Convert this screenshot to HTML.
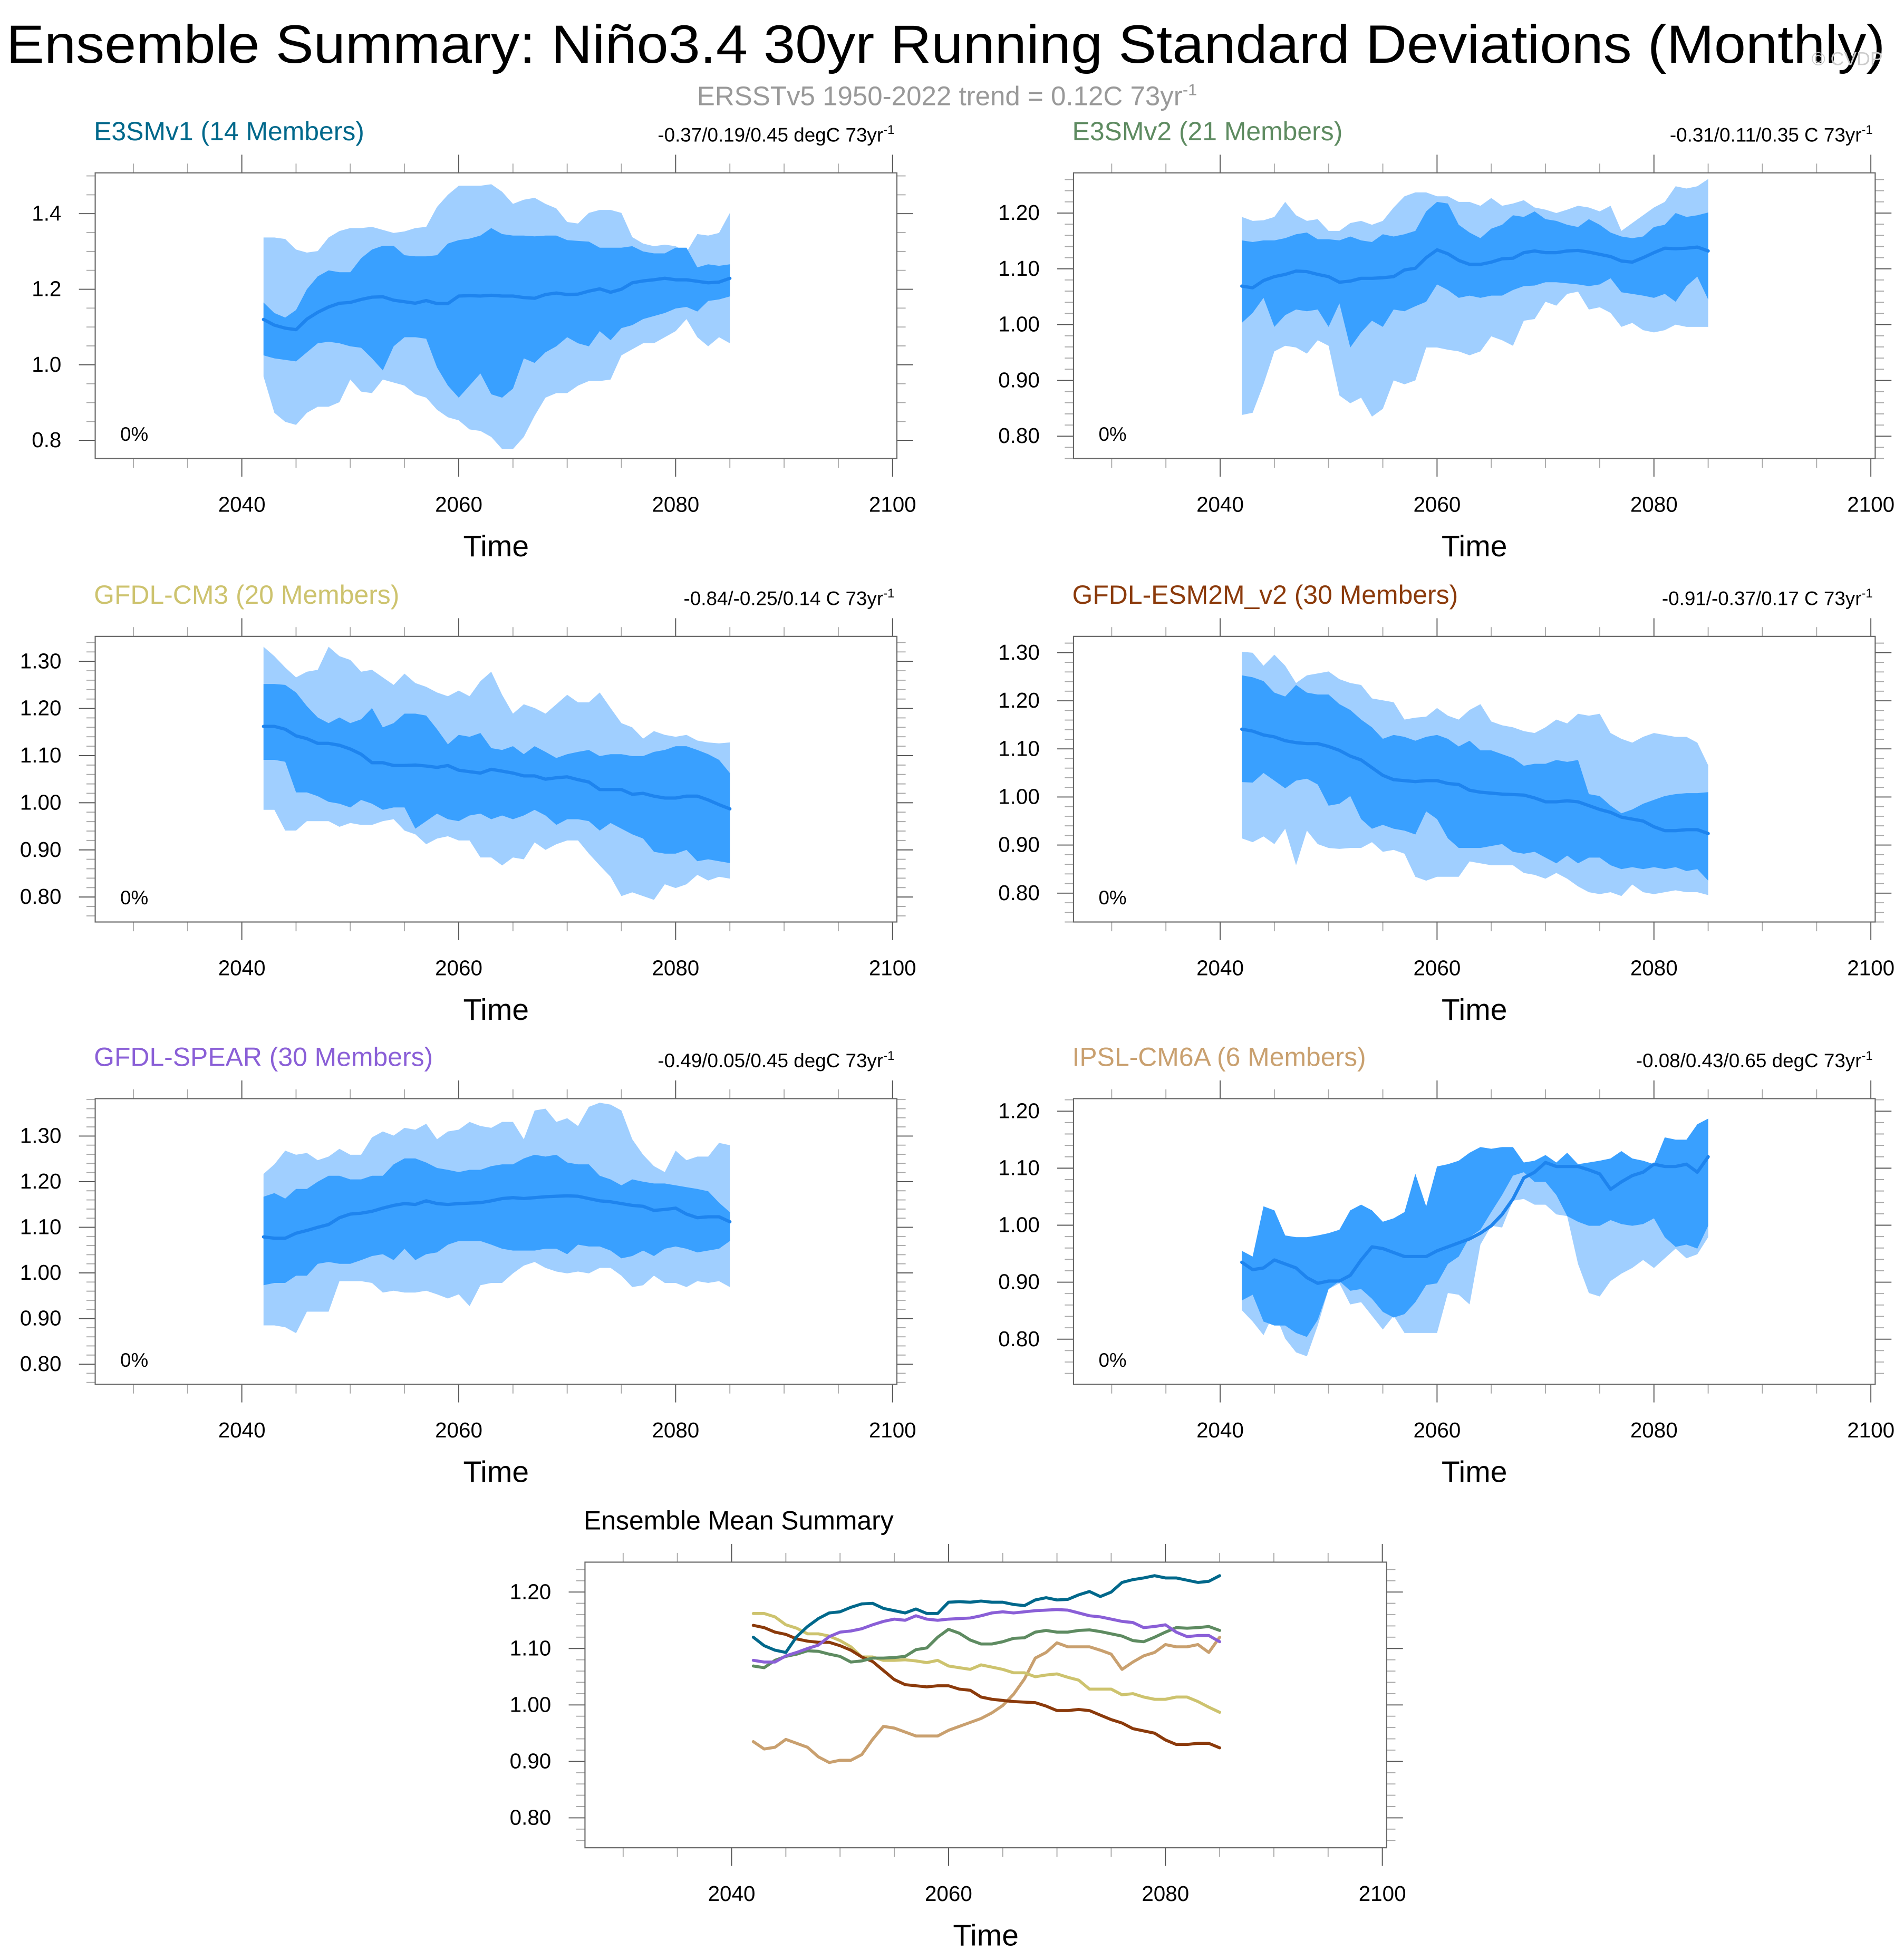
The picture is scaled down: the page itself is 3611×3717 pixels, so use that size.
<!DOCTYPE html>
<html><head><meta charset="utf-8">
<style>
html,body{margin:0;padding:0;background:#fff;}
svg{display:block;font-family:"Liberation Sans",Arial,sans-serif;}
</style></head>
<body>
<svg id="fig" xmlns="http://www.w3.org/2000/svg" width="3611" height="3717" viewBox="0 0 1520 1564.6" preserveAspectRatio="none">
<rect x="0" y="0" width="1520" height="1565" fill="#fff"/>
<text x="5" y="50" font-size="43" textLength="1500" lengthAdjust="spacingAndGlyphs" fill="#000">Ensemble Summary: Niño3.4 30yr Running Standard Deviations (Monthly)</text>
<text x="1503" y="52" font-size="15" text-anchor="end" fill="#ccc">© CVDP</text>
<text x="756" y="84" font-size="21.5" text-anchor="middle" fill="#999">ERSSTv5 1950-2022 trend = 0.12C 73yr<tspan font-size="13" dy="-8">-1</tspan></text>
<g id="plots"></g>
</svg>
<script>
const years = [];
for (let y = 2042; y <= 2085; y++) years.push(y);

// E3SMv1
const e3smv1Mean = [1.12,1.105,1.097,1.093,1.121,1.139,1.153,1.163,1.165,1.173,1.179,1.18,1.171,1.167,1.163,1.17,1.162,1.162,1.182,1.183,1.182,1.184,1.182,1.182,1.178,1.176,1.186,1.19,1.186,1.187,1.195,1.201,1.192,1.2,1.217,1.222,1.225,1.229,1.225,1.225,1.221,1.217,1.219,1.229];
const e3smv1DarkHi = [1.165,1.137,1.125,1.145,1.2,1.234,1.25,1.245,1.245,1.282,1.305,1.315,1.315,1.29,1.287,1.287,1.29,1.321,1.33,1.334,1.342,1.362,1.346,1.342,1.342,1.34,1.342,1.342,1.33,1.328,1.326,1.31,1.31,1.31,1.314,1.3,1.295,1.295,1.31,1.31,1.258,1.266,1.262,1.266];
const e3smv1DarkLo = [1.025,1.017,1.013,1.009,1.033,1.057,1.061,1.057,1.049,1.045,1.017,0.985,1.049,1.073,1.073,1.069,0.993,0.945,0.913,0.945,0.977,0.922,0.913,0.937,1.017,1.005,1.033,1.049,1.073,1.057,1.049,1.089,1.065,1.097,1.105,1.121,1.129,1.137,1.149,1.153,1.141,1.169,1.173,1.181];
const e3smv1LightHi = [1.337,1.337,1.333,1.305,1.297,1.301,1.337,1.354,1.362,1.362,1.365,1.357,1.349,1.353,1.362,1.365,1.418,1.45,1.474,1.474,1.474,1.478,1.458,1.426,1.437,1.442,1.426,1.414,1.378,1.374,1.402,1.41,1.41,1.402,1.338,1.321,1.314,1.318,1.314,1.298,1.346,1.342,1.349,1.402];
const e3smv1LightLo = [0.969,0.873,0.849,0.841,0.873,0.889,0.889,0.901,0.961,0.929,0.925,0.961,0.953,0.945,0.922,0.913,0.881,0.861,0.853,0.829,0.825,0.809,0.777,0.777,0.809,0.865,0.913,0.925,0.925,0.945,0.957,0.957,0.961,1.025,1.041,1.057,1.057,1.073,1.089,1.121,1.073,1.049,1.073,1.057];

// E3SMv2
const e3smv2Mean = [1.069,1.066,1.079,1.086,1.09,1.096,1.095,1.09,1.086,1.076,1.078,1.083,1.083,1.084,1.086,1.098,1.101,1.12,1.134,1.127,1.115,1.108,1.108,1.112,1.118,1.119,1.129,1.132,1.129,1.129,1.132,1.133,1.13,1.126,1.122,1.114,1.112,1.12,1.129,1.137,1.136,1.137,1.139,1.132];
const e3smv2DarkHi = [1.151,1.148,1.151,1.151,1.155,1.162,1.165,1.153,1.153,1.151,1.158,1.151,1.148,1.162,1.158,1.162,1.168,1.203,1.22,1.217,1.179,1.165,1.155,1.172,1.179,1.196,1.193,1.203,1.189,1.186,1.179,1.175,1.189,1.179,1.165,1.158,1.155,1.158,1.175,1.179,1.2,1.193,1.196,1.201];
const e3smv2DarkLo = [1.003,1.021,1.048,0.996,1.017,1.027,1.024,1.027,0.996,1.038,0.959,0.986,1.007,0.996,1.027,1.024,1.033,1.041,1.072,1.062,1.048,1.052,1.048,1.052,1.052,1.062,1.069,1.07,1.076,1.076,1.074,1.072,1.069,1.072,1.083,1.058,1.055,1.052,1.048,1.055,1.041,1.069,1.086,1.045];
const e3smv2LightHi = [1.193,1.186,1.187,1.193,1.22,1.196,1.186,1.189,1.168,1.168,1.182,1.186,1.179,1.186,1.21,1.23,1.237,1.237,1.23,1.23,1.22,1.22,1.213,1.227,1.213,1.217,1.223,1.21,1.206,1.2,1.206,1.213,1.21,1.203,1.213,1.168,1.182,1.196,1.21,1.22,1.248,1.244,1.248,1.261];
const e3smv2LightLo = [0.838,0.842,0.893,0.952,0.962,0.959,0.948,0.972,0.962,0.873,0.859,0.869,0.835,0.849,0.9,0.893,0.9,0.959,0.959,0.955,0.952,0.945,0.952,0.979,0.972,0.962,1.007,1.01,1.041,1.034,1.055,1.059,1.027,1.031,1.021,0.996,1.003,0.99,0.986,0.99,1.0,0.996,0.996,0.996];

// GFDL-CM3
const cm3Mean = [1.162,1.162,1.156,1.142,1.136,1.126,1.126,1.122,1.114,1.103,1.085,1.085,1.079,1.079,1.08,1.078,1.075,1.079,1.069,1.066,1.063,1.071,1.067,1.063,1.057,1.057,1.05,1.053,1.055,1.049,1.044,1.028,1.028,1.028,1.018,1.02,1.014,1.01,1.01,1.014,1.014,1.006,0.996,0.987];
const cm3DarkHi = [1.252,1.252,1.25,1.234,1.205,1.181,1.169,1.181,1.169,1.177,1.201,1.16,1.169,1.189,1.189,1.185,1.156,1.124,1.144,1.14,1.148,1.116,1.112,1.12,1.103,1.12,1.108,1.095,1.103,1.108,1.112,1.099,1.103,1.103,1.099,1.099,1.108,1.112,1.12,1.12,1.112,1.103,1.091,1.063];
const cm3DarkLo = [1.091,1.091,1.087,1.022,1.022,1.014,1.002,0.998,0.99,1.006,0.998,0.985,0.99,0.99,0.945,0.961,0.977,0.965,0.961,0.973,0.977,0.965,0.973,0.965,0.973,0.985,0.973,0.953,0.965,0.965,0.961,0.941,0.957,0.945,0.933,0.924,0.896,0.892,0.892,0.9,0.876,0.88,0.876,0.872];
const cm3LightHi = [1.331,1.311,1.287,1.266,1.278,1.282,1.331,1.311,1.303,1.278,1.282,1.266,1.25,1.274,1.254,1.246,1.234,1.226,1.238,1.226,1.258,1.278,1.229,1.189,1.209,1.201,1.189,1.209,1.229,1.213,1.213,1.234,1.201,1.169,1.16,1.136,1.152,1.144,1.14,1.144,1.132,1.128,1.126,1.128];
const cm3LightLo = [0.985,0.985,0.941,0.941,0.961,0.961,0.961,0.949,0.957,0.953,0.953,0.961,0.965,0.941,0.933,0.912,0.924,0.929,0.92,0.92,0.884,0.884,0.867,0.884,0.88,0.916,0.9,0.912,0.92,0.92,0.892,0.867,0.843,0.802,0.81,0.802,0.794,0.827,0.819,0.827,0.847,0.835,0.843,0.839];

// GFDL-ESM2M_v2
const esm2mMean = [1.141,1.137,1.129,1.125,1.117,1.113,1.111,1.111,1.105,1.097,1.085,1.077,1.061,1.045,1.036,1.034,1.032,1.034,1.034,1.028,1.026,1.014,1.01,1.008,1.006,1.005,1.004,0.998,0.99,0.99,0.992,0.99,0.982,0.974,0.968,0.958,0.954,0.95,0.938,0.93,0.93,0.932,0.932,0.924];
const esm2mDarkHi = [1.253,1.249,1.241,1.217,1.209,1.233,1.217,1.213,1.213,1.193,1.181,1.161,1.145,1.121,1.129,1.125,1.117,1.125,1.129,1.121,1.105,1.117,1.097,1.097,1.089,1.081,1.065,1.069,1.069,1.077,1.073,1.077,1.006,1.002,0.982,0.966,0.974,0.986,0.994,1.002,1.006,1.008,1.008,1.01];
const esm2mDarkLo = [1.031,1.03,1.05,1.034,1.018,1.034,1.038,1.026,0.982,0.986,1.002,0.954,0.934,0.942,0.934,0.93,0.922,0.97,0.954,0.914,0.894,0.894,0.894,0.898,0.902,0.886,0.882,0.886,0.874,0.862,0.878,0.862,0.874,0.874,0.858,0.85,0.854,0.85,0.854,0.85,0.854,0.846,0.85,0.826];
const esm2mLightHi = [1.302,1.3,1.273,1.296,1.273,1.237,1.253,1.257,1.261,1.245,1.237,1.233,1.205,1.201,1.197,1.161,1.165,1.167,1.185,1.169,1.161,1.181,1.193,1.157,1.149,1.145,1.137,1.133,1.145,1.161,1.153,1.173,1.169,1.173,1.133,1.121,1.113,1.125,1.133,1.129,1.125,1.125,1.113,1.066];
const esm2mLightLo = [0.914,0.906,0.918,0.902,0.934,0.858,0.93,0.902,0.894,0.892,0.894,0.894,0.906,0.886,0.89,0.882,0.834,0.826,0.834,0.834,0.834,0.866,0.862,0.858,0.858,0.858,0.842,0.838,0.83,0.842,0.83,0.814,0.802,0.798,0.802,0.794,0.818,0.802,0.798,0.802,0.806,0.802,0.802,0.796];

// GFDL-SPEAR
const spearMean = [1.079,1.076,1.076,1.087,1.093,1.1,1.106,1.121,1.129,1.131,1.135,1.142,1.148,1.152,1.15,1.158,1.152,1.15,1.152,1.153,1.154,1.158,1.163,1.165,1.163,1.165,1.167,1.168,1.169,1.168,1.163,1.158,1.156,1.152,1.148,1.146,1.137,1.139,1.142,1.129,1.121,1.123,1.123,1.112];
const spearDarkHi = [1.167,1.175,1.163,1.184,1.184,1.2,1.213,1.213,1.205,1.205,1.213,1.213,1.238,1.251,1.251,1.242,1.23,1.226,1.221,1.226,1.226,1.234,1.238,1.238,1.251,1.259,1.255,1.259,1.242,1.238,1.238,1.213,1.205,1.192,1.205,1.2,1.196,1.196,1.192,1.188,1.184,1.179,1.154,1.133];
const spearDarkLo = [0.973,0.978,0.978,0.994,0.994,1.02,1.024,1.02,1.02,1.028,1.037,1.041,1.028,1.053,1.028,1.041,1.045,1.062,1.07,1.07,1.07,1.062,1.053,1.049,1.049,1.049,1.053,1.053,1.041,1.062,1.058,1.058,1.049,1.032,1.037,1.049,1.037,1.053,1.058,1.053,1.045,1.049,1.053,1.07];
const spearLightHi = [1.217,1.238,1.268,1.259,1.263,1.247,1.255,1.272,1.259,1.259,1.297,1.31,1.301,1.318,1.314,1.327,1.293,1.31,1.314,1.331,1.322,1.318,1.331,1.331,1.293,1.356,1.36,1.331,1.339,1.322,1.364,1.373,1.369,1.356,1.293,1.259,1.234,1.221,1.268,1.247,1.255,1.255,1.285,1.28];
const spearLightLo = [0.885,0.885,0.881,0.868,0.915,0.915,0.915,0.982,0.982,0.982,0.978,0.957,0.961,0.957,0.957,0.961,0.953,0.944,0.953,0.927,0.973,0.978,0.978,0.999,1.016,1.024,1.011,1.003,0.999,1.003,0.999,1.011,1.011,0.994,0.969,0.973,0.994,0.978,0.978,0.969,0.982,0.978,0.982,0.969];

// IPSL-CM6A
const ipslMean = [0.935,0.922,0.925,0.939,0.932,0.925,0.908,0.898,0.902,0.902,0.912,0.939,0.962,0.959,0.952,0.945,0.945,0.945,0.955,0.962,0.969,0.976,0.986,0.999,1.019,1.046,1.083,1.093,1.11,1.103,1.103,1.103,1.097,1.09,1.063,1.076,1.087,1.093,1.107,1.103,1.103,1.107,1.093,1.12];
const ipslDarkHi = [0.955,0.945,1.033,1.026,0.982,0.979,0.979,0.982,0.986,0.992,1.026,1.036,1.026,1.006,1.012,1.023,1.09,1.033,1.103,1.107,1.113,1.127,1.137,1.134,1.137,1.137,1.11,1.113,1.123,1.11,1.127,1.107,1.11,1.113,1.117,1.13,1.117,1.113,1.107,1.154,1.15,1.15,1.177,1.187];
const ipslDarkLo = [0.868,0.878,0.831,0.824,0.824,0.811,0.804,0.834,0.888,0.902,0.885,0.888,0.871,0.848,0.838,0.844,0.865,0.895,0.898,0.932,0.945,0.979,0.992,1.023,1.053,1.087,1.093,1.076,1.076,1.053,1.016,1.006,0.999,0.999,1.009,1.002,0.999,1.002,1.012,0.979,0.962,0.966,0.959,0.999];
const ipslLightHi = [0.955,0.945,1.033,1.026,0.982,0.979,0.979,0.982,0.986,0.992,1.026,1.036,1.026,1.006,1.012,1.023,1.09,1.033,1.103,1.107,1.113,1.127,1.137,1.134,1.137,1.137,1.11,1.113,1.123,1.11,1.127,1.107,1.11,1.113,1.117,1.13,1.117,1.113,1.107,1.154,1.15,1.15,1.177,1.187];
const ipslLightLo = [0.851,0.831,0.807,0.848,0.801,0.777,0.77,0.824,0.888,0.898,0.861,0.865,0.841,0.817,0.841,0.811,0.811,0.811,0.811,0.881,0.878,0.861,0.966,0.999,0.996,1.043,1.046,1.036,1.036,1.019,1.016,0.932,0.881,0.875,0.902,0.915,0.925,0.939,0.925,0.942,0.959,0.942,0.949,0.979];

const panelTitles = ["E3SMv1 (14 Members)","E3SMv2 (21 Members)","GFDL-CM3 (20 Members)","GFDL-ESM2M_v2 (30 Members)","GFDL-SPEAR (30 Members)","IPSL-CM6A (6 Members)"];
const panelTrends = ["-0.37/0.19/0.45 degC 73yr","-0.31/0.11/0.35 C 73yr","-0.84/-0.25/0.14 C 73yr","-0.91/-0.37/0.17 C 73yr","-0.49/0.05/0.45 degC 73yr","-0.08/0.43/0.65 degC 73yr"];
const seriesColors = ["#00688b","#5e8b61","#cdc36e","#8b3a0b","#8a5fd7","#c9a06f"];
const xTickLabels = [2040,2060,2080,2100];

const NS = "http://www.w3.org/2000/svg";
const root = document.getElementById("plots");
function mk(tag, attrs, parent){
  const e = document.createElementNS(NS, tag);
  for (const k in attrs) e.setAttribute(k, attrs[k]);
  (parent||root).appendChild(e);
  return e;
}

const FW = 640, FH = 228, YR0 = 2026.48, YR1 = 2100.4;

function makeAxes(g, x0, y0, yMin, yMax, major, minor, dec, majors){
  const sx = yr => x0 + (yr - YR0) / (YR1 - YR0) * FW;
  const sy = v => y0 + (yMax - v) / (yMax - yMin) * FH;
  const fb = y0 + FH;
  for (let yr = 2030; yr <= 2100; yr += 5){
    const isMaj = yr % 20 === 0;
    const L = isMaj ? 14.5 : 7.4;
    const col = isMaj ? "#555" : "#aaa";
    const t1 = mk("line",{x1:sx(yr),x2:sx(yr),y1:fb,y2:fb+L,stroke:col,"stroke-width":0.8},g);
    
    
    const t2 = mk("line",{x1:sx(yr),x2:sx(yr),y1:y0,y2:y0-L,stroke:col,"stroke-width":0.8},g);
    
    
  }
  xTickLabels.forEach(v=>{
    const t = mk("text",{x:sx(v),y:fb+42.5,"font-size":17,"text-anchor":"middle",fill:"#000"},g);
    t.textContent = v;
    
    
  });
  const tl = mk("text",{x:x0+FW/2,y:fb+78,"font-size":24,"text-anchor":"middle",fill:"#000"},g);
  tl.textContent = "Time";
  
  
  const n0 = Math.ceil(yMin/minor - 1e-6), n1 = Math.floor(yMax/minor + 1e-6);
  for (let n = n0; n <= n1; n++){
    const v = n*minor;
    const isMaj = Math.abs(v/major - Math.round(v/major)) < 1e-6;
    const L = isMaj ? 13 : 7;
    const col = isMaj ? "#555" : "#aaa";
    const a = mk("line",{x1:x0-L,x2:x0,y1:sy(v),y2:sy(v),stroke:col,"stroke-width":0.8},g);
    
    
    const b = mk("line",{x1:x0+FW,x2:x0+FW+L,y1:sy(v),y2:sy(v),stroke:col,"stroke-width":0.8},g);
    
    
  }
  majors.forEach(v=>{
    const t = mk("text",{x:x0-27,y:sy(v)+5.5,"font-size":17,"text-anchor":"end",fill:"#000"},g);
    t.textContent = v.toFixed(dec);
    
    
  });
  return {sx, sy};
}

function frame(g, x0, y0){
  const f = mk("rect",{x:x0,y:y0,width:FW,height:FH,fill:"none",stroke:"#666","stroke-width":0.9},g);
  
  
}

function bandPath(sx, sy, hi, lo){
  let d = "";
  years.forEach((yr,i)=>{ d += (i?"L":"M") + sx(yr).toFixed(2) + "," + sy(hi[i]).toFixed(2); });
  for (let i = years.length-1; i >= 0; i--) d += "L" + sx(years[i]).toFixed(2) + "," + sy(lo[i]).toFixed(2);
  return d + "Z";
}
function linePath(sx, sy, vals){
  let d = "";
  years.forEach((yr,i)=>{ d += (i?"L":"M") + sx(yr).toFixed(2) + "," + sy(vals[i]).toFixed(2); });
  return d;
}

const panels = [
  {x0:76,y0:138,yMin:0.752,yMax:1.508,major:0.2,minor:0.05,dec:1,majors:[0.8,1.0,1.2,1.4],d:[e3smv1Mean,e3smv1DarkHi,e3smv1DarkLo,e3smv1LightHi,e3smv1LightLo]},
  {x0:857,y0:138,yMin:0.76,yMax:1.272,major:0.1,minor:0.02,dec:2,majors:[0.8,0.9,1.0,1.1,1.2],d:[e3smv2Mean,e3smv2DarkHi,e3smv2DarkLo,e3smv2LightHi,e3smv2LightLo]},
  {x0:76,y0:508,yMin:0.747,yMax:1.353,major:0.1,minor:0.02,dec:2,majors:[0.8,0.9,1.0,1.1,1.2,1.3],d:[cm3Mean,cm3DarkHi,cm3DarkLo,cm3LightHi,cm3LightLo]},
  {x0:857,y0:508,yMin:0.74,yMax:1.334,major:0.1,minor:0.02,dec:2,majors:[0.8,0.9,1.0,1.1,1.2,1.3],d:[esm2mMean,esm2mDarkHi,esm2mDarkLo,esm2mLightHi,esm2mLightLo]},
  {x0:76,y0:877,yMin:0.756,yMax:1.382,major:0.1,minor:0.02,dec:2,majors:[0.8,0.9,1.0,1.1,1.2,1.3],d:[spearMean,spearDarkHi,spearDarkLo,spearLightHi,spearLightLo]},
  {x0:857,y0:877,yMin:0.721,yMax:1.222,major:0.1,minor:0.02,dec:2,majors:[0.8,0.9,1.0,1.1,1.2],d:[ipslMean,ipslDarkHi,ipslDarkLo,ipslLightHi,ipslLightLo]}
];

panels.forEach((p,k)=>{
  const g = mk("g",{});
  
  
  const ax = makeAxes(g, p.x0, p.y0, p.yMin, p.yMax, p.major, p.minor, p.dec, p.majors);
  const lb = mk("path",{d:bandPath(ax.sx, ax.sy, p.d[3], p.d[4]),fill:"#a0cfff",stroke:"none"},g);
  
  
  const db = mk("path",{d:bandPath(ax.sx, ax.sy, p.d[1], p.d[2]),fill:"#39a0ff",stroke:"none"},g);
  
  
  const ml = mk("path",{d:linePath(ax.sx, ax.sy, p.d[0]),fill:"none",stroke:"#1e84ee","stroke-width":2.6,"stroke-linejoin":"round","stroke-linecap":"round"},g);
  
  
  frame(g, p.x0, p.y0);
  const t = mk("text",{x:p.x0-1,y:p.y0-26,"font-size":21,fill:seriesColors[k]},g);
  t.textContent = panelTitles[k];
  
  
  const r = mk("text",{x:p.x0+FW-2,y:p.y0-25,"font-size":15.5,"text-anchor":"end",fill:"#000"},g);
  r.textContent = panelTrends[k];
  const sup = mk("tspan",{dy:-6,"font-size":10},r);
  sup.textContent = "-1";
  
  
  const pc = mk("text",{x:p.x0+20,y:p.y0+214,"font-size":15.5,fill:"#000"},g);
  pc.textContent = "0%";
  
  
});

// Summary
(function(){
  const g = mk("g",{});
  
  
  const x0 = 467, y0 = 1247;
  const ax = makeAxes(g, x0, y0, 0.747, 1.253, 0.1, 0.02, 2, [0.8,0.9,1.0,1.1,1.2]);
  const order = [5,2,3,1,4,0];
  order.forEach(k=>{
    const l = mk("path",{d:linePath(ax.sx, ax.sy, panels[k].d[0]),fill:"none",stroke:seriesColors[k],"stroke-width":2.4,"stroke-linejoin":"round","stroke-linecap":"round"},g);
    
    
  });
  frame(g, x0, y0);
  const t = mk("text",{x:x0-1,y:y0-26,"font-size":21,fill:"#000"},g);
  t.textContent = "Ensemble Mean Summary";
  
  
})();
</script>
</body></html>
